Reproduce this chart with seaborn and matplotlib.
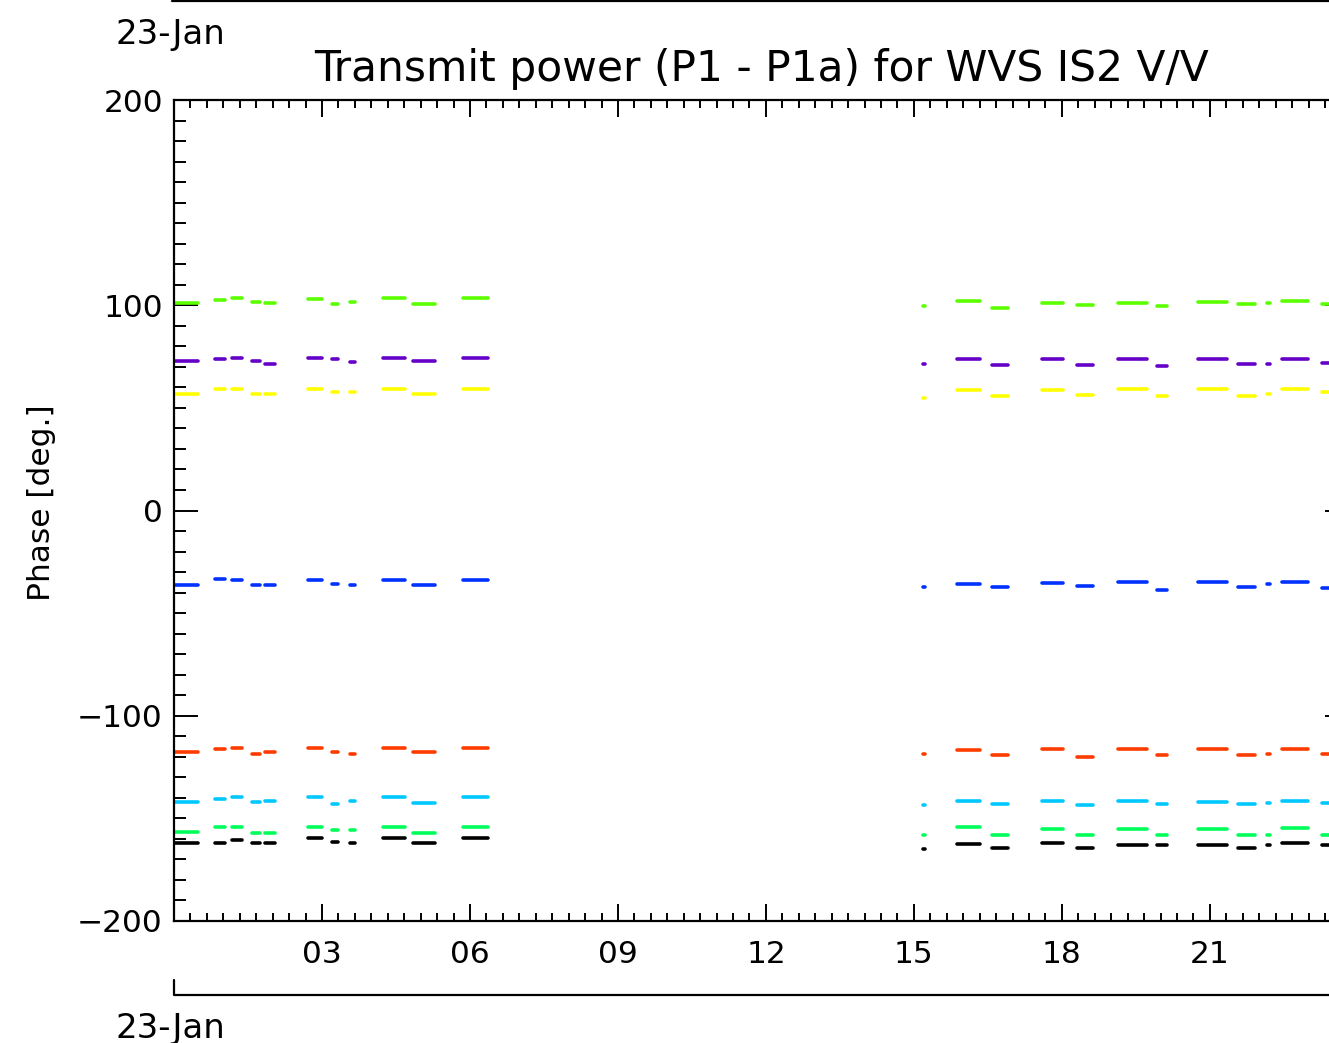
"""
Transmit power (P1 - P1a) phase, WVS IS2 V/V, one day of calibration pulses.
Re-drawn from an IDL quick-look plot.
"""

import pandas as pd
import matplotlib.pyplot as plt
import matplotlib.ticker as mticker
from matplotlib.lines import Line2D
import seaborn as sns

# ── Data ──────────────────────────────────────────────────────────────────────
# start / end of each measurement stretch (hours of 23-Jan)
SEG_START = [0.00, 0.83, 1.18, 1.58, 1.84, 2.72, 3.20, 3.57, 4.24, 4.84, 5.85,
             15.18, 15.87, 16.58, 17.60, 18.31, 19.14, 19.93, 20.76, 21.57, 22.16, 22.46, 23.27]
SEG_END   = [0.49, 1.03, 1.38, 1.74, 2.05, 3.00, 3.32, 3.67, 4.68, 5.29, 6.37,
             15.22, 16.34, 16.91, 18.02, 18.63, 19.72, 20.13, 21.35, 21.91, 22.22, 22.99, 23.60]

# phase level [deg] of each stretch, one list per channel
green_a = [101.2, 102.7, 103.4, 101.5, 101.0, 102.9, 100.5, 101.5, 103.6, 100.5, 103.6,
           99.5, 102.3, 98.9, 101.3, 99.9, 101.3, 99.4, 101.8, 100.4, 101.3, 102.3, 100.4]
purple  = [72.6, 73.6, 74.3, 72.6, 71.6, 74.1, 73.6, 72.4, 74.5, 72.6, 74.5,
           71.6, 73.6, 71.1, 73.6, 71.1, 73.6, 70.6, 73.6, 71.6, 71.6, 73.6, 72.1]
yellow  = [57.0, 59.4, 59.0, 57.0, 57.0, 59.0, 57.5, 57.5, 59.4, 57.0, 59.4,
           54.6, 58.5, 56.0, 58.5, 56.5, 59.0, 56.0, 59.0, 56.0, 57.0, 59.4, 57.5]
blue    = [-36.1, -33.6, -34.1, -36.5, -36.1, -34.1, -35.6, -36.5, -34.1, -36.5, -34.1,
           -37.5, -35.6, -37.5, -35.3, -37.0, -34.8, -38.5, -34.8, -37.5, -36.0, -34.6, -38.0]
red     = [-117.9, -116.4, -115.9, -118.4, -117.9, -115.9, -117.9, -118.4, -115.5, -117.9, -115.5,
           -118.4, -116.9, -118.9, -116.0, -119.9, -116.0, -118.9, -116.0, -118.9, -118.4, -116.4, -118.4]
cyan    = [-141.8, -140.8, -139.8, -141.8, -141.3, -139.8, -142.8, -141.3, -139.8, -142.3, -139.8,
           -143.7, -141.3, -143.2, -141.3, -143.7, -141.3, -142.8, -141.8, -142.8, -142.3, -141.3, -142.3]
green_b = [-156.4, -154.4, -154.4, -156.9, -156.9, -154.4, -155.9, -155.9, -154.4, -156.9, -154.0,
           -158.3, -154.4, -158.3, -155.4, -157.9, -155.4, -158.3, -155.4, -158.3, -158.3, -154.9, -158.3]
black   = [-161.8, -161.8, -160.3, -162.2, -162.2, -159.8, -161.3, -162.2, -159.8, -162.2, -159.8,
           -164.7, -162.7, -164.2, -162.2, -164.2, -163.2, -163.2, -163.2, -164.2, -163.2, -162.2, -163.2]

CHANNELS = {
    "green_a": green_a, "purple": purple, "yellow": yellow, "blue": blue,
    "red": red, "cyan": cyan, "green_b": green_b, "black": black,
}
COLOURS = {
    "green_a": "#5cff00", "purple": "#6400c8", "yellow": "#ffff00", "blue": "#0032ff",
    "red": "#ff3c00", "cyan": "#00c8ff", "green_b": "#00ff5a", "black": "#000000",
}

TICK_HOURS  = [0, 3, 6, 9, 12, 15, 18, 21]
TICK_LABELS = ["", "03", "06", "09", "12", "15", "18", "21"]
DAY_LABEL   = "23-Jan"

# ── Long table: two points per stretch ───────────────────────────────────────
rows = []
for name, levels in CHANNELS.items():
    for i, (t0, t1, v) in enumerate(zip(SEG_START, SEG_END, levels)):
        rows.append({"channel": name, "seg": i, "hour": t0, "phase": v})
        rows.append({"channel": name, "seg": i, "hour": t1, "phase": v})
df = pd.DataFrame(rows)

# ── Figure ────────────────────────────────────────────────────────────────────
sns.set_style("white")
plt.rcParams["font.family"] = ["DejaVu Sans"]
plt.rcParams["text.color"] = "black"

W, H = 1329, 1043
fig = plt.figure(figsize=(W / 100, H / 100), dpi=100)
ax = fig.add_axes([174 / W, 1 - 921 / H, 1175 / W, 821 / H])

sns.lineplot(
    data=df, x="hour", y="phase", hue="channel", units="seg",
    estimator=None, palette=COLOURS, linewidth=2.6, legend=False, ax=ax,
)

ax.set_xlim(0, 23.82)
ax.set_ylim(-200, 200)
ax.set_xlabel("")
ax.set_ylabel("")

ax.set_xticks(TICK_HOURS)
ax.set_xticklabels(TICK_LABELS)
ax.xaxis.set_minor_locator(mticker.MultipleLocator(1 / 3))
ax.yaxis.set_major_locator(mticker.MultipleLocator(100))
ax.yaxis.set_minor_locator(mticker.MultipleLocator(10))

ax.tick_params(axis="both", which="both", direction="in",
               bottom=True, left=True, top=True, right=True,
               width=1.4, colors="black", labelsize=22.5)
ax.tick_params(axis="x", which="major", length=12, pad=14)
ax.tick_params(axis="x", which="minor", length=6)
ax.tick_params(axis="y", which="major", length=17, pad=8)
ax.tick_params(axis="y", which="minor", length=8.5)
for s in ax.spines.values():
    s.set_linewidth(1.6)
    s.set_color("black")

ax.set_title("Transmit power (P1 - P1a) for WVS IS2 V/V", fontsize=30.5, pad=14,
             color="black")
fig.text(42 / W, 1 - 503 / H, "Phase [deg.]", rotation=90, ha="center", va="center",
         fontsize=22.5)

# day labels with their date axes above and below the plot
fig.text(115 / W, 1 - 44 / H, DAY_LABEL, fontsize=24.5, va="baseline")
fig.text(115 / W, 1 - 1038 / H, DAY_LABEL, fontsize=24.5, va="baseline")
fig.add_artist(Line2D([172 / W, 1], [1 - 1 / H, 1 - 1 / H], color="black", lw=1.6,
                      transform=fig.transFigure))
fig.add_artist(Line2D([174 / W, 174 / W, 1], [1 - 980 / H, 1 - 995 / H, 1 - 995 / H],
                      color="black", lw=1.6, transform=fig.transFigure))

fig.savefig("out.png", dpi=100)
plt.close(fig)
